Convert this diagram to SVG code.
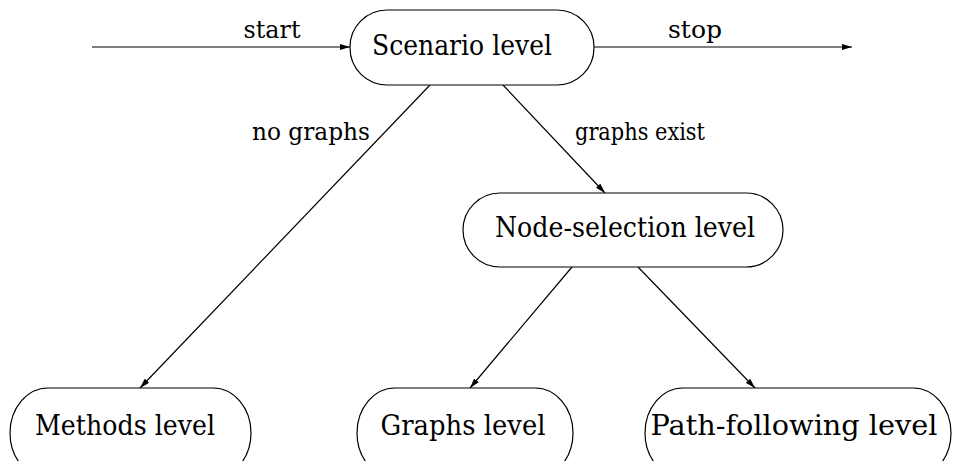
<svg xmlns="http://www.w3.org/2000/svg" width="953" height="461" viewBox="0 0 953 461">
<style>
.n{fill:#fff;stroke:#000;stroke-width:1.2}
text{font-family:'DejaVu Serif','Liberation Serif','Times New Roman',serif;fill:#000;text-anchor:middle}
.t{font-size:27px}
.l{font-size:25px}
.c{stroke:#000;stroke-width:1.2;fill:none;marker-end:url(#a)}
</style>
<defs>
<marker id="a" viewBox="0 0 10 6" refX="10" refY="3" markerWidth="10" markerHeight="6" markerUnits="userSpaceOnUse" orient="auto">
<path d="M0,0 L10,3 L0,6 Z" fill="#000"/>
</marker>
</defs>
<rect width="953" height="461" fill="#fff"/>
<g id="connectors">
<line class="c" x1="92" y1="47" x2="350" y2="47"/>
<line class="c" x1="594" y1="47" x2="852" y2="47"/>
<line class="c" x1="430" y1="85" x2="140" y2="388"/>
<line class="c" x1="503" y1="85" x2="605" y2="193"/>
<line class="c" x1="572" y1="267" x2="470" y2="388"/>
<line class="c" x1="638" y1="267" x2="755" y2="388"/>
<text class="l" x="272" y="38" textLength="57" lengthAdjust="spacingAndGlyphs">start</text>
<text class="l" x="695" y="38" textLength="54" lengthAdjust="spacingAndGlyphs">stop</text>
<text class="l" x="311" y="140" textLength="118" lengthAdjust="spacingAndGlyphs">no graphs</text>
<text class="l" x="640" y="140" textLength="130" lengthAdjust="spacingAndGlyphs">graphs exist</text>
</g>
<g id="scenario">
<rect class="n" x="350" y="10" width="244" height="75" rx="37" ry="37"/>
<text class="t" x="462" y="55" textLength="180" lengthAdjust="spacingAndGlyphs">Scenario level</text>
</g>
<g id="nodeselection">
<rect class="n" x="463" y="193" width="320" height="74" rx="37" ry="37"/>
<text class="t" x="625" y="237" textLength="260" lengthAdjust="spacingAndGlyphs">Node-selection level</text>
</g>
<g id="methods">
<rect class="n" x="10" y="388" width="241" height="90" rx="38" ry="45"/>
<text class="t" x="125" y="435" textLength="180" lengthAdjust="spacingAndGlyphs">Methods level</text>
</g>
<g id="graphs">
<rect class="n" x="357" y="388" width="216" height="90" rx="38" ry="45"/>
<text class="t" x="463" y="435" textLength="165" lengthAdjust="spacingAndGlyphs">Graphs level</text>
</g>
<g id="pathfollowing">
<rect class="n" x="645" y="388" width="306" height="90" rx="38" ry="45"/>
<text class="t" x="794" y="435" textLength="287" lengthAdjust="spacingAndGlyphs">Path-following level</text>
</g>
</svg>
